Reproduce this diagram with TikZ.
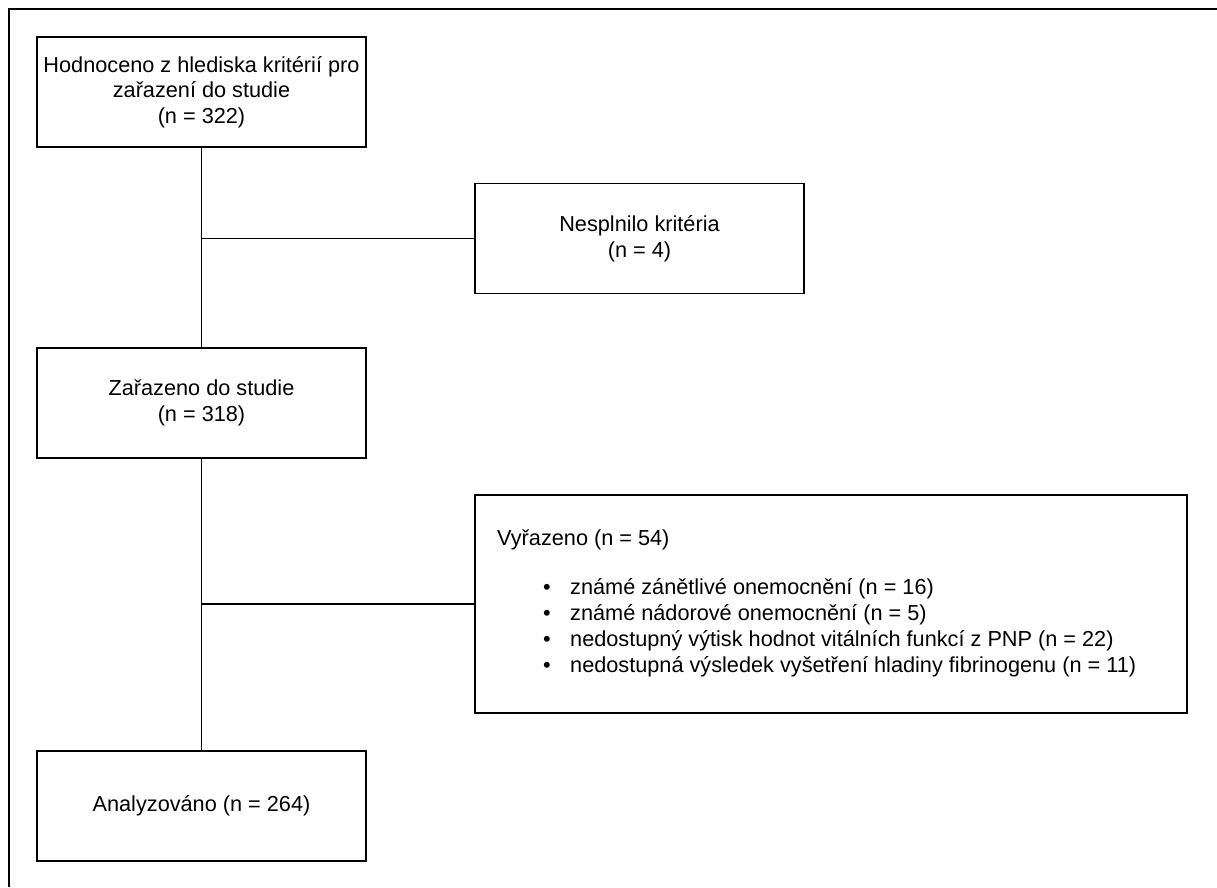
\documentclass[tikz,border=0pt]{standalone}
\usepackage{fontspec}
\setmainfont{Liberation Sans}
\begin{document}
\begin{tikzpicture}[x=1pt,y=-1pt,
  box/.style={draw=black, line width=1.5pt, rectangle, inner sep=0pt,
    minimum width=329pt, minimum height=110pt, align=center,
    font=\fontsize{21.7}{25.5}\selectfont},
  link/.style={draw=black, line width=1.3pt},
  frame/.style={draw=black, line width=2.6pt},
  txt/.style={inner sep=0pt, anchor=base west, font=\fontsize{21.7}{26}\selectfont},
  bul/.style={inner sep=0pt, anchor=base, font=\fontsize{21.7}{26}\selectfont}]
\useasboundingbox (0,0) rectangle (1217,887);
% outer frame (top and left edges only)
\coordinate (fa) at (9,887);
\coordinate (fb) at (9,9);
\coordinate (fc) at (1217,9);
\draw[frame] (fa) -- (fb) -- (fc);
% boxes
\node[box] (b1) at (201.5,92) {Hodnoceno z hlediska kritérií pro\\zařazení do studie\\(n = 322)};
\node[box] (n1) at (639.5,238.5) {Nesplnilo kritéria\\(n = 4)};
\node[box] (b2) at (201.5,403) {Zařazeno do studie\\(n = 318)};
\node[box, minimum width=712pt, minimum height=218pt] (n2) at (831,604) {};
\node[box] (b3) at (201.5,806) {Analyzováno (n = 264)};
% exclusion box text
\node[txt] (t0) at (497,545) {Vyřazeno (n = 54)};
\node[bul] (d1) at (547,594) {•};
\node[txt] (t1) at (570,594) {známé zánětlivé onemocnění (n = 16)};
\node[bul] (d2) at (547,620.3) {•};
\node[txt] (t2) at (570,620.3) {známé nádorové onemocnění (n = 5)};
\node[bul] (d3) at (547,646.6) {•};
\node[txt] (t3) at (570,646.6) {nedostupný výtisk hodnot vitálních funkcí z PNP (n = 22)};
\node[bul] (d4) at (547,672.9) {•};
\node[txt] (t4) at (570,672.9) {nedostupná výsledek vyšetření hladiny fibrinogenu (n = 11)};
% connectors
\draw[link] (b1.south) -- (b2.north);
\draw[link] (b2.south) -- (b3.north);
\coordinate (j1) at (b1.south |- n1.west);
\coordinate (j2) at (b2.south |- n2.west);
\draw[link] (j1) -- (n1.west);
\draw[link] (j2) -- (n2.west);
\end{tikzpicture}
\end{document}
